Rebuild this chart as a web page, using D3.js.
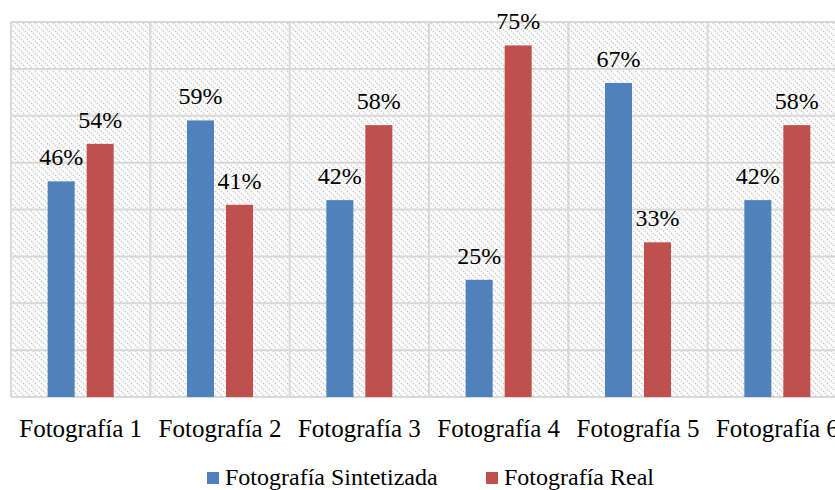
<!DOCTYPE html>
<html><head><meta charset="utf-8">
<script src="https://cdn.jsdelivr.net/npm/d3@7"></script>
<style>body{margin:0;background:#fff}svg{display:block}</style>
</head><body>
<script>
const categories = ["Fotografía 1","Fotografía 2","Fotografía 3","Fotografía 4","Fotografía 5","Fotografía 6"];
const seriesNames = ["Fotografía Sintetizada","Fotografía Real"];
const sintetizada = [0.46,0.59,0.42,0.25,0.67,0.42];
const real = [0.54,0.41,0.58,0.75,0.33,0.58];
const colors = ["#4f81bd","#c0504d"];
const yTicks = [0,0.1,0.2,0.3,0.4,0.5,0.6,0.7,0.8];

const W=835,H=490;
const m={left:11,top:22,right:847,bottom:397};
const svg=d3.select("body").append("svg").attr("width",W).attr("height",H);
const defs=svg.append("defs");
const pat=defs.append("pattern").attr("id","hatch").attr("patternUnits","userSpaceOnUse").attr("width",6).attr("height",6);
pat.append("rect").attr("width",6).attr("height",6).attr("fill","#fff");
pat.append("path").attr("d","M-1,-1 L7,7 M-1,5 L1,7 M5,-1 L7,1").attr("stroke","#d0d0d0").attr("stroke-width",1.8).attr("stroke-dasharray","1.4,1.4");

const x=d3.scaleBand().domain(categories).range([m.left,m.right]);
const sub=d3.scaleBand().domain(seriesNames).range([0,x.bandwidth()]).paddingInner(0.3077).paddingOuter(0.94);
const y=d3.scaleLinear().domain([0,0.8]).range([m.bottom,m.top]);

svg.append("rect").attr("x",m.left).attr("y",m.top).attr("width",m.right-m.left).attr("height",m.bottom-m.top).attr("fill","url(#hatch)");
// grid
svg.append("g").selectAll("line").data(yTicks).join("line")
 .attr("x1",m.left).attr("x2",m.right).attr("y1",d=>y(d)).attr("y2",d=>y(d))
 .attr("stroke","#d9d9d9").attr("stroke-width",2);
svg.append("g").selectAll("line").data(categories.concat(["end"])).join("line")
 .attr("x1",(d,i)=>m.left+i*x.step()).attr("x2",(d,i)=>m.left+i*x.step())
 .attr("y1",m.top).attr("y2",m.bottom).attr("stroke","#d9d9d9").attr("stroke-width",2);

const data=categories.map((c,i)=>({c,vals:[{s:seriesNames[0],v:sintetizada[i],k:0},{s:seriesNames[1],v:real[i],k:1}]}));
const g=svg.append("g").selectAll("g").data(data).join("g").attr("transform",d=>`translate(${x(d.c)},0)`);
g.selectAll("rect").data(d=>d.vals).join("rect")
 .attr("x",d=>sub(d.s)).attr("width",sub.bandwidth())
 .attr("y",d=>y(d.v)).attr("height",d=>y(0)-y(d.v)).attr("fill",d=>colors[d.k]);
g.selectAll("text").data(d=>d.vals).join("text")
 .attr("x",d=>sub(d.s)+sub.bandwidth()/2).attr("y",d=>y(d.v)-16)
 .attr("text-anchor","middle").attr("font-family","Liberation Serif, serif").attr("font-size",24).attr("fill","#000")
 .text(d=>Math.round(d.v*100)+"%");

// x axis labels
const xAxis=d3.axisBottom(x).tickSize(0).tickPadding(0);
const ax=svg.append("g").attr("transform",`translate(0,${m.bottom})`).call(xAxis);
ax.select(".domain").remove();
ax.selectAll("text").attr("dy",0).attr("y",40).attr("font-family","Liberation Serif, serif").attr("font-size",25).attr("fill","#000");

// legend
const leg=[{n:seriesNames[0],c:colors[0],x:207},{n:seriesNames[1],c:colors[1],x:486}];
const lg=svg.append("g").selectAll("g").data(leg).join("g").attr("transform",d=>`translate(${d.x},472)`);
lg.append("rect").attr("width",12).attr("height",12).attr("fill",d=>d.c);
lg.append("text").attr("x",18).attr("y",13).attr("font-family","Liberation Serif, serif").attr("font-size",24).attr("fill","#000").text(d=>d.n);
</script>
</body></html>
